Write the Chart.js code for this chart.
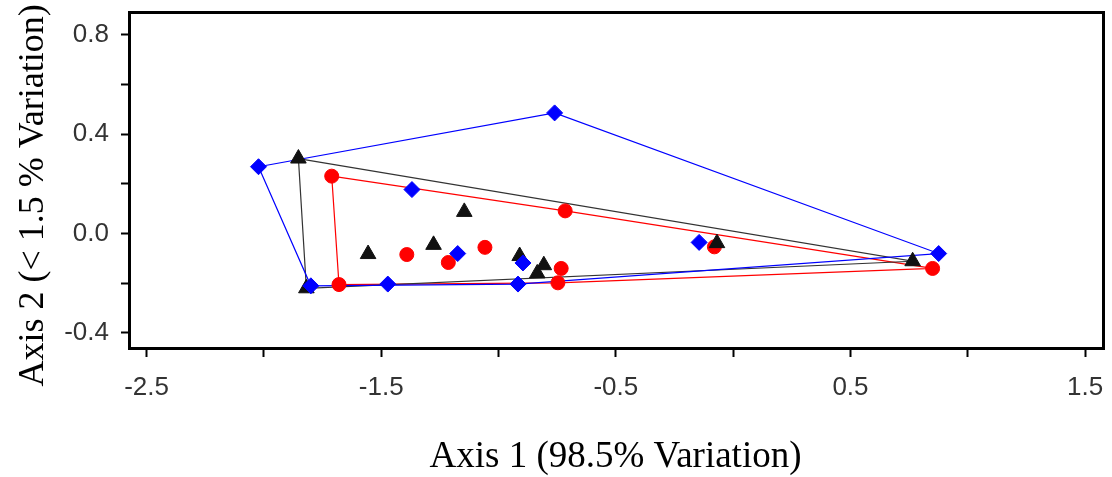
<!DOCTYPE html>
<html>
<head>
<meta charset="utf-8">
<script src="https://cdn.jsdelivr.net/npm/chart.js@4.4.0/dist/chart.umd.min.js"></script>
<style>
  html, body { margin: 0; padding: 0; background: #fff; }
  #wrap { width: 1112px; height: 477px; }
</style>
</head>
<body>
<div id="wrap"><canvas id="myChart" width="1112" height="477"></canvas></div>
<script>
// Ordination scores for the three groups (Axis 1, Axis 2)
const blueX  = [-2.023, -0.761, 0.876, -1.369, -1.174, -0.145, -0.896, -1.800, -1.472, -0.917];
const blueY  = [0.269, 0.486, -0.081, 0.177, -0.081, -0.036, -0.119, -0.211, -0.204, -0.204];
const redX   = [-1.711, -0.716, -1.391, -1.214, -1.058, -1.680, -0.733, -0.747, -0.080, 0.850];
const redY   = [0.231, 0.091, -0.085, -0.117, -0.056, -0.206, -0.141, -0.199, -0.054, -0.141];
const blackX = [-1.853, -1.146, -1.556, -1.277, -0.910, -0.807, -0.835, -1.819, -0.069, 0.765];
const blackY = [0.302, 0.087, -0.083, -0.046, -0.091, -0.128, -0.161, -0.221, -0.039, -0.112];

// convex hull outlines, as indexes into the arrays above
const blueHull  = [0, 1, 2, 9, 7, 0];
const redHull   = [0, 1, 9, 7, 5, 0];
const blackHull = [0, 9, 7, 0];

// axis ticks
const xTicks = [-2.5, -2.0, -1.5, -1.0, -0.5, 0.0, 0.5, 1.0, 1.5];
const xTickLabels = [-2.5, -1.5, -0.5, 0.5, 1.5];
const yTicks = [-0.4, -0.2, 0.0, 0.2, 0.4, 0.6, 0.8];
const yTickLabels = [-0.4, 0.0, 0.4, 0.8];

const xTitle = 'Axis 1 (98.5% Variation)';
const yTitle = 'Axis 2 (< 1.5 % Variation)';

function pts(xs, ys) {
  return xs.map((x, i) => ({x: x, y: ys[i]}));
}
function hull(xs, ys, idx) {
  return idx.map(i => ({x: xs[i], y: ys[i]}));
}
function hasLabel(list, v) {
  return list.some(l => Math.abs(l - v) < 1e-6);
}

// frame round the plot area and the two axis titles
const framePlugin = {
  id: 'frame',
  afterDraw(chart) {
    const {ctx, chartArea: a} = chart;
    ctx.save();
    ctx.strokeStyle = '#000';
    ctx.lineWidth = 3;
    ctx.strokeRect(a.left - 0.5, a.top + 0.5, a.right - a.left + 2, a.bottom - a.top);

    ctx.fillStyle = '#000';
    ctx.font = '37px "Liberation Serif", "Times New Roman", serif';
    ctx.textAlign = 'center';
    ctx.textBaseline = 'alphabetic';
    ctx.fillText(xTitle, 615.5, 467);

    ctx.font = '36px "Liberation Serif", "Times New Roman", serif';
    ctx.translate(43, 195.5);
    ctx.rotate(-Math.PI / 2);
    ctx.fillText(yTitle, 0, 0);
    ctx.restore();
  }
};

const tickFont = {family: '"Liberation Sans", Arial, sans-serif', size: 26};

const ctx = document.getElementById('myChart').getContext('2d');
const myChart = new Chart(ctx, {
  type: 'scatter',
  data: {
    datasets: [
      {
        data: hull(blueX, blueY, blueHull),
        showLine: true, borderColor: '#0000ff', borderWidth: 1.2,
        pointRadius: 0, order: 10
      },
      {
        data: hull(blackX, blackY, blackHull),
        showLine: true, borderColor: '#333333', borderWidth: 1.2,
        pointRadius: 0, order: 11
      },
      {
        data: hull(redX, redY, redHull),
        showLine: true, borderColor: '#ff0000', borderWidth: 1.2,
        pointRadius: 0, order: 12
      },
      {
        data: pts(redX, redY),
        pointStyle: 'circle', pointRadius: 7, borderWidth: 1,
        backgroundColor: '#ff0000', borderColor: '#ff0000', order: 3
      },
      {
        data: pts(blackX, blackY),
        pointStyle: 'triangle', pointRadius: 9, borderWidth: 1,
        backgroundColor: '#111111', borderColor: '#111111', order: 2
      },
      {
        data: pts(blueX, blueY),
        pointStyle: 'rectRot', pointRadius: 8, borderWidth: 1,
        backgroundColor: '#0000ff', borderColor: '#0000ff', order: 1
      }
    ]
  },
  options: {
    responsive: false,
    animation: false,
    layout: { padding: {top: 12, right: 3, left: 0, bottom: 0} },
    plugins: {
      legend: { display: false },
      tooltip: { enabled: false }
    },
    scales: {
      x: {
        type: 'linear',
        min: -2.5708,
        max: 1.5721,
        afterBuildTicks: s => { s.ticks = xTicks.map(v => ({value: v})); },
        afterFit: s => { s.height = 129; s.paddingLeft = 0; s.paddingRight = 0; },
        border: { display: false },
        grid: { drawOnChartArea: false, drawTicks: true, tickLength: 9, tickWidth: 2, color: '#000' },
        ticks: {
          autoSkip: false, maxRotation: 0, padding: 15, color: '#333', font: tickFont,
          callback: v => hasLabel(xTickLabels, v) ? v.toFixed(1) : ''
        }
      },
      y: {
        type: 'linear',
        min: -0.4617,
        max: 0.8927,
        afterBuildTicks: s => { s.ticks = yTicks.map(v => ({value: v})); },
        afterFit: s => { s.width = 130; s.paddingTop = 0; s.paddingBottom = 0; },
        border: { display: false },
        grid: { drawOnChartArea: false, drawTicks: true, tickLength: 9, tickWidth: 2, color: '#000' },
        ticks: {
          autoSkip: false, padding: 12, color: '#333', font: tickFont,
          callback: v => hasLabel(yTickLabels, v) ? v.toFixed(1) : ''
        }
      }
    }
  },
  plugins: [framePlugin]
});
</script>
</body>
</html>
